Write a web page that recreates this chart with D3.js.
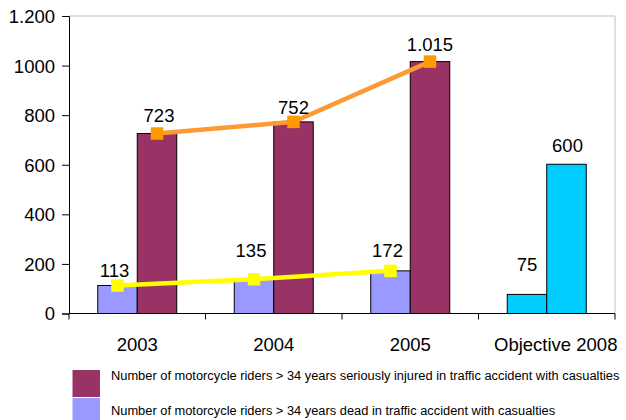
<!DOCTYPE html>
<html>
<head>
<meta charset="utf-8">
<script src="https://cdn.jsdelivr.net/npm/d3@7/dist/d3.min.js"></script>
<style>
  html, body { margin: 0; padding: 0; background: #fff; }
  svg { display: block; }
  text { font-family: Arial, "Liberation Sans", sans-serif; fill: #000; }
</style>
</head>
<body>
<svg id="chart" width="626" height="420"></svg>
<script>
// ---- data ----
const categories = ["2003", "2004", "2005", "Objective 2008"];
const years = ["2003", "2004", "2005"];
const injured = [726, 773, 1016];          // bar heights
const dead = [113, 138, 172];
const injuredLabels = ["723", "752", "1.015"];
const deadLabels = ["113", "135", "172"];
const objective = [77, 602];
const objectiveLabels = ["75", "600"];
const yTicks = [0, 200, 400, 600, 800, 1000, 1200];
const yTickLabels = ["0", "200", "400", "600", "800", "1000", "1.200"];
const legendLabels = [
  "Number of motorcycle riders > 34 years seriously injured in traffic accident with casualties",
  "Number of motorcycle riders > 34 years dead in traffic accident with casualties"
];

// ---- style ----
const C_INJ = "#993366", C_DEAD = "#9999FF", C_OBJ = "#00CCFF";
const C_ORANGE_LINE = "#FF9933", C_ORANGE_MK = "#FF9900", C_YELLOW = "#FFFF00";
const FS = "18.5px";

const svg = d3.select("#chart");
const x = d3.scaleBand().domain(categories).range([69, 615]).padding(0);
const y = d3.scaleLinear().domain([0, 1200]).range([313.5, 16]);
const bw = 39.5;
const cx = c => x(c) + x.bandwidth() / 2;

// plot border (grey top/right)
svg.append("path")
  .attr("d", `M69,${y(1200)}H615V${y(0)}`)
  .attr("fill", "none").attr("stroke", "#c0c0c0").attr("stroke-width", 1);

// bars
const g = svg.append("g");
years.forEach((yr, i) => {
  g.append("rect").attr("x", cx(yr) - bw).attr("y", y(dead[i]))
    .attr("width", bw).attr("height", y(0) - y(dead[i]))
    .attr("fill", C_DEAD).attr("stroke", "#000").attr("stroke-width", 1);
  g.append("rect").attr("x", cx(yr)).attr("y", y(injured[i]))
    .attr("width", bw).attr("height", y(0) - y(injured[i]))
    .attr("fill", C_INJ).attr("stroke", "#000").attr("stroke-width", 1);
});
const obj = "Objective 2008";
objective.forEach((v, i) => {
  g.append("rect").attr("x", cx(obj) - bw + i * bw).attr("y", y(v))
    .attr("width", bw).attr("height", y(0) - y(v))
    .attr("fill", C_OBJ).attr("stroke", "#000").attr("stroke-width", 1);
});

// axes
const yAxis = d3.axisLeft(y).tickValues(yTicks)
  .tickFormat((d, i) => yTickLabels[i]).tickSize(7).tickPadding(7);
const ya = svg.append("g").attr("transform", "translate(69,0)").call(yAxis);
ya.selectAll("text").style("font-size", FS).attr("dy", "0.35em");
ya.selectAll("line, path").attr("stroke", "#000");

const xa = svg.append("g");
xa.append("line").attr("x1", 69).attr("x2", 615).attr("y1", y(0)).attr("y2", y(0)).attr("stroke", "#000");
categories.concat([null]).forEach((c, i) => {
  const xx = c === null ? x.range()[1] : x(c);
  xa.append("line").attr("x1", xx).attr("x2", xx).attr("y1", y(0)).attr("y2", y(0) + 6).attr("stroke", "#000");
});
categories.forEach((c, i) => {
  xa.append("text").attr("x", cx(c) + (i === 3 ? 9 : 0)).attr("y", 351)
    .attr("text-anchor", "middle").style("font-size", FS).text(c);
});

// lines
const line = d3.line().x(d => d[0]).y(d => d[1]);
const orangePts = years.map((yr, i) => [cx(yr) + bw / 2, y(injured[i])]);
const yellowPts = years.map((yr, i) => [cx(yr) - bw / 2, y(dead[i])]);
svg.append("path").attr("d", line(orangePts)).attr("fill", "none")
  .attr("stroke", C_ORANGE_LINE).attr("stroke-width", 4.5);
svg.append("path").attr("d", line(yellowPts)).attr("fill", "none")
  .attr("stroke", C_YELLOW).attr("stroke-width", 4.5);
const ms = 12.5;
orangePts.forEach(p => svg.append("rect").attr("x", p[0] - ms / 2).attr("y", p[1] - ms / 2)
  .attr("width", ms).attr("height", ms).attr("fill", C_ORANGE_MK));
yellowPts.forEach(p => svg.append("rect").attr("x", p[0] - ms / 2).attr("y", p[1] - ms / 2)
  .attr("width", ms).attr("height", ms).attr("fill", C_YELLOW));

// value labels (individual nudges mimic the manual placement in the original)
const injNudge = [[2, -12], [0, -8], [0, -11]];
const deadNudge = [[-3, -8], [-3, -22], [-3, -14]];
const objNudge = [[0, -23], [1, -12]];
orangePts.forEach((p, i) => svg.append("text").attr("x", p[0] + injNudge[i][0]).attr("y", p[1] + injNudge[i][1])
  .attr("text-anchor", "middle").style("font-size", FS).text(injuredLabels[i]));
yellowPts.forEach((p, i) => svg.append("text").attr("x", p[0] + deadNudge[i][0]).attr("y", p[1] + deadNudge[i][1])
  .attr("text-anchor", "middle").style("font-size", FS).text(deadLabels[i]));
objective.forEach((v, i) => svg.append("text")
  .attr("x", cx(obj) - bw / 2 + i * bw + objNudge[i][0]).attr("y", y(v) + objNudge[i][1])
  .attr("text-anchor", "middle").style("font-size", FS).text(objectiveLabels[i]));

// legend
const legColors = [C_INJ, C_DEAD];
const lg = svg.append("g");
legColors.forEach((col, i) => {
  lg.append("rect").attr("x", 72.5).attr("y", 370 + i * 28).attr("width", 27.5).attr("height", 27)
    .attr("fill", col);
  lg.append("text").attr("x", 111).attr("y", 380 + i * 35).style("font-size", "12.85px").text(legendLabels[i]);
});
</script>
</body>
</html>
